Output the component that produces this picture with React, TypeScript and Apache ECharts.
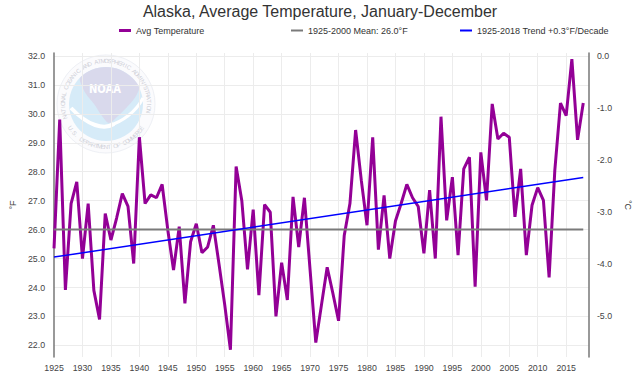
import React, { useEffect, useRef } from "react";
import * as echarts from "echarts";

// ---- Data ----
const START_YEAR = 1925;
const END_YEAR = 2018;
const avgTemps: number[] = [
  25.35, 29.8, 23.92, 26.9, 27.65, 25.0, 26.9, 23.9, 22.9, 26.55, // 1925-1934
  25.64, 26.4, 27.24, 26.8, 24.83, 29.19, 26.9, 27.2, 27.1, 27.56, // 1935-1944
  25.98, 24.6, 26.1, 23.45, 25.58, 26.2, 25.2, 25.4, 26.15, 24.8, // 1945-1954
  23.4, 21.85, 28.18, 27.0, 24.63, 26.69, 23.74, 26.86, 26.6, 23.0, // 1955-1964
  24.86, 23.57, 27.13, 25.4, 27.1, 24.6, 22.1, 23.4, 24.7, 23.8, // 1965-1974
  22.85, 25.8, 26.9, 29.44, 27.7, 26.15, 29.19, 25.31, 27.18, 25.0, // 1975-1984
  26.3, 26.9, 27.56, 27.1, 26.8, 25.18, 27.36, 25.0, 29.9, 26.32, // 1985-1994
  27.81, 25.12, 28.1, 28.5, 24.03, 28.67, 27.01, 30.34, 29.13, 29.33, // 1995-2004
  29.19, 26.44, 28.1, 25.12, 26.84, 27.45, 27.01, 24.35, 28.04, 30.37, // 2005-2014
  29.94, 31.89, 29.1, 30.37, // 2015-2018
];
const meanValue = 26.0;
const trendStartValue = 25.05;
const trendEndValue = 27.8;

const titleText = "Alaska, Average Temperature, January-December";
const seriesNames = [
  "Avg Temperature",
  "1925-2000 Mean: 26.0°F",
  "1925-2018 Trend +0.3°F/Decade",
];
const seriesColors = ["#930096", "#7a7a7a", "#0000ff"];

const FONT = "'Liberation Sans', Arial, Helvetica, sans-serif";

// ---- NOAA watermark (decorative) ----
const LOGO_CX = 106;
const LOGO_CY = 104;
const ringTop = "NATIONAL OCEANIC AND ATMOSPHERIC ADMINISTRATION";
const ringBottom = "U.S. DEPARTMENT OF COMMERCE";

function buildLogo(): any[] {
  const els: any[] = [];
  const cx = LOGO_CX;
  const cy = LOGO_CY;
  const z = -10;
  els.push({
    type: "circle",
    z,
    silent: true,
    shape: { cx, cy, r: 49 },
    style: { fill: "#fbfbfd", stroke: "#eef0f5", lineWidth: 1 },
  });
  els.push({
    type: "circle",
    z,
    silent: true,
    shape: { cx, cy, r: 37 },
    style: { fill: "#d6ebf8" },
  });
  const lav = [
    [-26, -26], [-14, -34.3], [0, -37], [14, -34.3], [26.2, -26.2], [33, -16.8],
    [30, -8], [22, 2], [12, 12], [3, 19], [-4, 12], [-12, 0], [-20, -10], [-24, -18],
  ].map(([dx, dy]) => [cx + dx, cy + dy]);
  els.push({
    type: "polygon",
    z,
    silent: true,
    shape: { points: lav, smooth: 0.3 },
    style: { fill: "#d9d9ec" },
  });
  els.push({
    type: "bezierCurve",
    z,
    silent: true,
    shape: {
      x1: cx - 35, y1: cy + 4,
      cpx1: cx - 18, cpy1: cy + 22,
      cpx2: cx - 2, cpy2: cy + 26,
      x2: cx + 8, y2: cy + 20,
    },
    style: { stroke: "#ffffff", lineWidth: 4, fill: null },
  });
  els.push({
    type: "bezierCurve",
    z,
    silent: true,
    shape: {
      x1: cx + 2, y1: cy + 22,
      cpx1: cx + 16, cpy1: cy + 18,
      cpx2: cx + 30, cpy2: cy + 8,
      x2: cx + 37, y2: cy - 6,
    },
    style: { stroke: "#ffffff", lineWidth: 3, fill: null },
  });
  els.push({
    type: "text",
    z,
    silent: true,
    x: cx - 1,
    y: cy - 15,
    scaleY: 1.25,
    style: {
      text: "NOAA",
      fill: "#ffffff",
      fontSize: 10,
      fontWeight: "bold",
      fontFamily: "'DejaVu Sans', sans-serif",
      align: "center",
      verticalAlign: "middle",
    },
  });
  const r = 43;
  const a0 = 160, a1 = 372;
  for (let i = 0; i < ringTop.length; i++) {
    const deg = a0 + ((a1 - a0) * (i + 0.5)) / ringTop.length;
    const th = (deg * Math.PI) / 180;
    els.push({
      type: "text",
      z,
      silent: true,
      x: cx + r * Math.cos(th),
      y: cy + r * Math.sin(th),
      rotation: -((deg + 90) * Math.PI) / 180,
      style: {
        text: ringTop[i],
        fill: "#cfd0d8",
        fontSize: 6,
        fontFamily: FONT,
        align: "center",
        verticalAlign: "middle",
      },
    });
  }
  const b0 = 148, b1 = 32;
  for (let i = 0; i < ringBottom.length; i++) {
    const deg = b0 + ((b1 - b0) * (i + 0.5)) / ringBottom.length;
    const th = (deg * Math.PI) / 180;
    els.push({
      type: "text",
      z,
      silent: true,
      x: cx + r * Math.cos(th),
      y: cy + r * Math.sin(th),
      rotation: -((deg - 90) * Math.PI) / 180,
      style: {
        text: ringBottom[i],
        fill: "#cfd0d8",
        fontSize: 6,
        fontFamily: FONT,
        align: "center",
        verticalAlign: "middle",
      },
    });
  }
  return els;
}

const F_MIN = 21.6;
const F_MAX = 32.1;

export default function App() {
  const ref = useRef<HTMLDivElement>(null);
  useEffect(() => {
    if (!ref.current) return;
    const chart = echarts.init(ref.current, undefined, { renderer: "svg" });
    const avgData = avgTemps.map((v, i) => [START_YEAR + i, v]);
    const meanData = [
      [START_YEAR, meanValue],
      [END_YEAR, meanValue],
    ];
    const trendData = [
      [START_YEAR, trendStartValue],
      [END_YEAR, trendEndValue],
    ];
    const legendBase = {
      top: 21,
      itemGap: 10,
      icon: "rect",
      itemWidth: 12,
      textStyle: { fontSize: 9, color: "#333", fontFamily: FONT },
    };
    const axisLabelStyle = { fontSize: 8.8, color: "#444", fontFamily: FONT };
    chart.setOption({
      animation: false,
      backgroundColor: "#ffffff",
      textStyle: { fontFamily: FONT },
      title: {
        text: titleText,
        left: "center",
        top: 0,
        padding: [3, 5, 3, 5],
        textStyle: { fontSize: 16, fontWeight: "normal", color: "#333", fontFamily: FONT },
      },
      legend: [
        { ...legendBase, left: 114, itemHeight: 3, data: [seriesNames[0]] },
        { ...legendBase, left: 286, itemHeight: 2, data: [seriesNames[1]] },
        { ...legendBase, left: 455, itemHeight: 2, data: [seriesNames[2]] },
      ],
      graphic: { elements: buildLogo() },
      grid: { left: 48, right: 43.5, top: 53, bottom: 35 },
      xAxis: {
        type: "value",
        min: START_YEAR,
        max: 2019,
        interval: 5,
        axisLine: { show: false },
        axisTick: { show: false },
        axisLabel: {
          ...axisLabelStyle,
          margin: 6,
          showMaxLabel: false,
          formatter: (v: number) => String(v),
        },
        splitLine: {
          show: true,
          showMinLine: false,
          showMaxLine: false,
          lineStyle: { color: "#ececec", width: 1 },
        },
      },
      yAxis: [
        {
          type: "value",
          position: "left",
          min: F_MIN,
          max: F_MAX,
          splitNumber: 10,
          minInterval: 1,
          maxInterval: 1,
          name: "°F",
          nameLocation: "middle",
          nameGap: 32,
          nameRotate: 90,
          nameTextStyle: { fontSize: 9, color: "#444", fontFamily: FONT },
          axisLine: { show: true, lineStyle: { color: "#777", width: 1.5 } },
          axisTick: { show: false },
          axisLabel: {
            ...axisLabelStyle,
            margin: 9,
            showMinLabel: false,
            showMaxLabel: false,
            formatter: (v: number) => v.toFixed(1),
          },
          splitLine: {
            show: true,
            showMinLine: false,
            showMaxLine: false,
            lineStyle: { color: "#ececec", width: 1 },
          },
        },
        {
          type: "value",
          position: "right",
          min: (F_MIN - 32) / 1.8,
          max: (F_MAX - 32) / 1.8,
          splitNumber: 6,
          minInterval: 1,
          maxInterval: 1,
          name: "°C",
          nameLocation: "middle",
          nameGap: 28,
          nameRotate: -90,
          nameTextStyle: { fontSize: 9, color: "#444", fontFamily: FONT },
          axisLine: { show: true, lineStyle: { color: "#777", width: 1.5 } },
          axisTick: { show: false },
          axisLabel: {
            ...axisLabelStyle,
            margin: 8,
            showMinLabel: false,
            showMaxLabel: false,
            formatter: (v: number) => v.toFixed(1),
          },
          splitLine: { show: false },
        },
      ],
      series: [
        {
          name: seriesNames[0],
          type: "line",
          data: avgData,
          color: seriesColors[0],
          showSymbol: false,
          symbol: "none",
          lineStyle: { color: seriesColors[0], width: 3 },
          z: 3,
        },
        {
          name: seriesNames[1],
          type: "line",
          data: meanData,
          color: seriesColors[1],
          showSymbol: false,
          symbol: "none",
          lineStyle: { color: seriesColors[1], width: 2 },
          z: 4,
        },
        {
          name: seriesNames[2],
          type: "line",
          data: trendData,
          color: seriesColors[2],
          showSymbol: false,
          symbol: "none",
          lineStyle: { color: seriesColors[2], width: 1.5 },
          z: 5,
        },
      ],
    });
    return () => chart.dispose();
  }, []);
  return (
    <div
      ref={ref}
      style={{ position: "absolute", left: 0, top: 0, width: 640, height: 392 }}
    />
  );
}
